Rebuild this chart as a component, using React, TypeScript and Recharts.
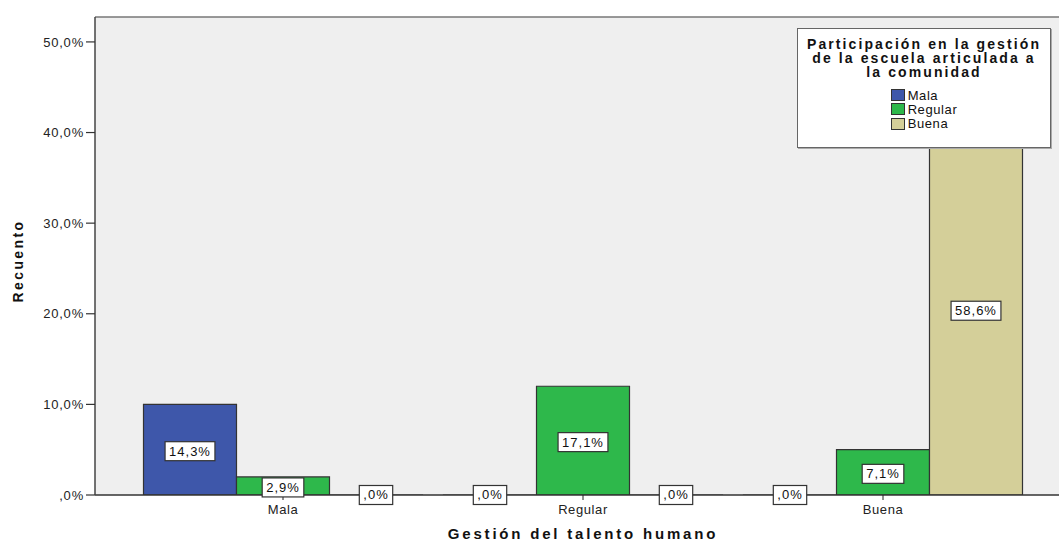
import { Bar, BarChart, CartesianGrid, LabelList, Legend, ReferenceLine, XAxis, YAxis } from 'recharts';

// Gestión del talento humano (eje X) × Participación en la gestión (series)
const categorias = ['Mala', 'Regular', 'Buena'];
const recuentoMala = [10, 0, 0];
const recuentoRegular = [2, 12, 5];
const recuentoBuena = [0, 0, 41];
const ticksY = [0, 10, 20, 30, 40, 50];
const Y_MAX = 52.75;

const series = [
  { key: 'mala', nombre: 'Mala', color: '#3e57aa' },
  { key: 'regular', nombre: 'Regular', color: '#2eb84b' },
  { key: 'buena', nombre: 'Buena', color: '#d4cf99' },
];

const total = [...recuentoMala, ...recuentoRegular, ...recuentoBuena].reduce((a, b) => a + b, 0);

const data = categorias.map((c, i) => ({
  cat: c,
  mala: recuentoMala[i],
  regular: recuentoRegular[i],
  buena: recuentoBuena[i],
}));

const FONT = '"Liberation Sans", Arial, sans-serif';

// estilo SPSS: ",0%" sin cero inicial
function fmtPct(v: number) {
  const s = v.toFixed(1).replace('.', ',');
  return (s.startsWith('0,') ? s.slice(1) : s) + '%';
}

function anchoTexto(t: string) {
  let w = 0;
  for (const c of t) w += (c === ',' ? 3.61 : c === '%' ? 11.56 : 7.23) + 1;
  return w;
}

function EtiquetaBarra(props: any) {
  const vb = props.viewBox ?? props;
  const { x, y, width } = vb;
  const height = vb.height ?? 0;
  const txt = fmtPct((Number(props.value) / total) * 100);
  const w = anchoTexto(txt) + 8;
  const h = 19;
  const cx = x + width / 2;
  const cy = Math.abs(height) < 1 ? y + height / 2 : y + height / 2 + 1.5;
  return (
    <g>
      <rect x={cx - w / 2} y={cy - h / 2} width={w} height={h} fill="#fff" stroke="#333" strokeWidth={1.2} />
      <text
        x={cx}
        y={cy + 4.5}
        textAnchor="middle"
        fontSize={13}
        fontFamily={FONT}
        letterSpacing={1}
        fill="#111"
      >
        {txt}
      </text>
    </g>
  );
}

function Leyenda() {
  return (
    <div
      style={{
        width: 252,
        height: 118,
        background: '#fff',
        border: '1px solid #666',
        boxShadow: '1px 1px 0 #aaa',
        fontFamily: FONT,
        color: '#111',
        boxSizing: 'content-box',
      }}
    >
      <div
        style={{
          fontWeight: 'bold',
          fontSize: 14,
          letterSpacing: 2.1,
          lineHeight: '14px',
          textAlign: 'center',
          paddingTop: 8,
        }}
      >
        <div>Participación en la gestión</div>
        <div>de la escuela articulada a</div>
        <div>la comunidad</div>
      </div>
      <div style={{ textAlign: 'center', marginTop: 9 }}>
        <div style={{ display: 'inline-block', textAlign: 'left' }}>
          {series.map((s) => (
            <div key={s.key} style={{ display: 'flex', alignItems: 'center', height: 14.3 }}>
              <span
                style={{
                  display: 'inline-block',
                  width: 12,
                  height: 10,
                  background: s.color,
                  border: '1px solid #333',
                  marginRight: 3,
                }}
              />
              <span style={{ fontSize: 13, letterSpacing: 0.6 }}>{s.nombre}</span>
            </div>
          ))}
        </div>
      </div>
    </div>
  );
}

export default function App() {
  return (
    <div style={{ position: 'absolute', left: 0, top: 0, width: 1059, height: 542, overflow: 'hidden', background: '#fff' }}>
      <BarChart
        width={1090}
        height={542}
        data={data}
        margin={{ top: 17, right: 19, bottom: 0, left: 0 }}
        barCategoryGap={10.5}
        barGap={0}
      >
        <CartesianGrid horizontal={false} vertical={false} fill="#efefef" />
        <ReferenceLine y={Y_MAX} stroke="#777" strokeWidth={1.5} />
        <XAxis
          dataKey="cat"
          height={47}
          padding={{ left: 38, right: 38 }}
          tickSize={5}
          tickMargin={5}
          axisLine={{ stroke: '#333', strokeWidth: 1.5 }}
          tickLine={{ stroke: '#222' }}
          tick={{ fontSize: 13, fontFamily: FONT, fill: '#222', letterSpacing: 0.6 }}
          label={{
            content: (p: any) => {
              const vb = p.viewBox;
              return (
                <text
                  x={vb.x + vb.width / 2}
                  y={vb.y + 44}
                  textAnchor="middle"
                  fontSize={15}
                  fontWeight="bold"
                  fontFamily={FONT}
                  letterSpacing={2.8}
                  fill="#111"
                >
                  Gestión del talento humano
                </text>
              );
            },
          }}
        />
        <YAxis
          width={95}
          domain={[0, Y_MAX]}
          ticks={ticksY}
          allowDataOverflow
          tickFormatter={fmtPct}
          tickSize={9}
          tickMargin={2}
          axisLine={{ stroke: '#444', strokeWidth: 1.5 }}
          tickLine={{ stroke: '#333', strokeWidth: 1.2 }}
          tick={{ fontSize: 13, fontFamily: FONT, fill: '#222', letterSpacing: 0.8 }}
          label={{
            content: (p: any) => {
              const vb = p.viewBox;
              const x = vb.x + 18;
              const y = vb.y + vb.height / 2 + 5;
              return (
                <text
                  x={x}
                  y={y}
                  transform={`rotate(-90, ${x}, ${y})`}
                  textAnchor="middle"
                  dominantBaseline="central"
                  fontSize={14}
                  fontWeight="bold"
                  fontFamily={FONT}
                  letterSpacing={2.4}
                  fill="#111"
                >
                  Recuento
                </text>
              );
            },
          }}
        />
        <Legend
          layout="horizontal"
          verticalAlign="middle"
          align="center"
          content={() => <Leyenda />}
          wrapperStyle={{ left: 797, top: 28, width: 254, height: 120, right: 'auto', bottom: 'auto' }}
        />
        {series.map((s) => (
          <Bar
            key={s.key}
            dataKey={s.key}
            name={s.nombre}
            fill={s.color}
            stroke="#333"
            strokeWidth={1.2}
            minPointSize={(v: number) => (v === 0 ? 0.01 : 0)}
            isAnimationActive={false}
          >
            <LabelList dataKey={s.key} content={<EtiquetaBarra />} />
          </Bar>
        ))}
      </BarChart>
    </div>
  );
}
